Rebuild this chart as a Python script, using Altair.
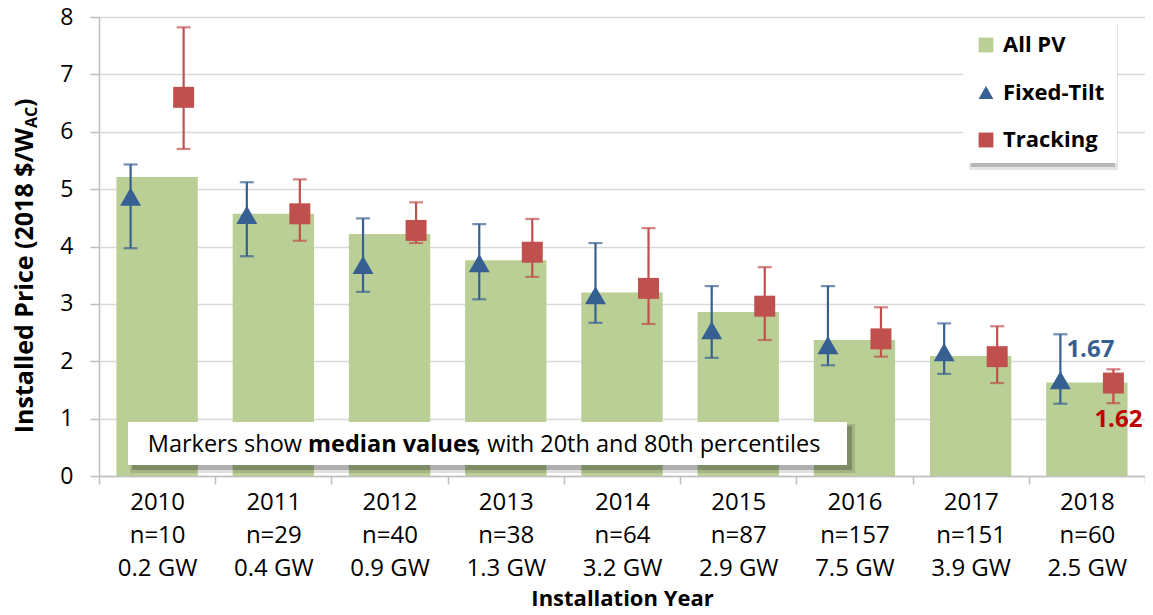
import json
import altair as alt
import pandas as pd

# ---- data ----
years = ["2010", "2011", "2012", "2013", "2014", "2015", "2016", "2017", "2018"]
n_labels = ["n=10", "n=29", "n=40", "n=38", "n=64", "n=87", "n=157", "n=151", "n=60"]
gw_labels = ["0.2 GW", "0.4 GW", "0.9 GW", "1.3 GW", "3.2 GW", "2.9 GW", "7.5 GW", "3.9 GW", "2.5 GW"]

all_pv = [5.21, 4.57, 4.22, 3.76, 3.20, 2.86, 2.37, 2.09, 1.63]

fixed_med = [4.87, 4.55, 3.68, 3.71, 3.15, 2.54, 2.28, 2.16, 1.67]
fixed_p20 = [3.97, 3.83, 3.21, 3.08, 2.67, 2.06, 1.93, 1.78, 1.26]
fixed_p80 = [5.43, 5.12, 4.49, 4.39, 4.06, 3.31, 3.31, 2.66, 2.47]

track_med = [6.60, 4.57, 4.28, 3.90, 3.27, 2.96, 2.39, 2.08, 1.62]
track_p20 = [5.70, 4.10, 4.06, 3.47, 2.65, 2.37, 2.08, 1.62, 1.27]
track_p80 = [7.82, 5.17, 4.77, 4.48, 4.32, 3.64, 2.94, 2.61, 1.86]

series_names = ["All PV", "Fixed-Tilt", "Tracking"]
GREEN = "#B9CF96"
BLUE = "#376092"
RED = "#C0504D"
DARKRED = "#C00000"
FONT = "Open Sans"

bars_df = pd.DataFrame({"year": years, "series": "All PV", "value": all_pv})
pts_df = pd.concat([
    pd.DataFrame({"year": years, "series": "Fixed-Tilt", "med": fixed_med, "p20": fixed_p20, "p80": fixed_p80}),
    pd.DataFrame({"year": years, "series": "Tracking", "med": track_med, "p20": track_p20, "p80": track_p80}),
], ignore_index=True)

nmap = json.dumps(dict(zip(years, n_labels)))
gwmap = json.dumps(dict(zip(years, gw_labels)))
label_expr = f"[datum.value, {nmap}[datum.value], {gwmap}[datum.value]]"

x_enc = alt.X(
    "year:N",
    scale=alt.Scale(domain=years, paddingInner=0, paddingOuter=0),
    axis=alt.Axis(
        title="Installation Year",
        labelExpr=label_expr,
        labelAngle=0,
        labelFont=FONT,
        labelFontSize=24,
        labelColor="#000000",
        labelLineHeight=33,
        labelBaseline="top",
        labelPadding=6,
        tickBand="extent",
        tickSize=8,
        tickColor="#BFBFBF",
        tickWidth=1.5,
        domainColor="#BFBFBF",
        domainWidth=1.5,
        grid=False,
        titleFont=FONT,
        titleFontSize=22,
        titleFontWeight="bold",
        titleColor="#000000",
        titleBaseline="alphabetic",
        titleY=129,
    ),
)

y_scale = alt.Scale(domain=[0, 8], nice=False, zero=True)
y_axis = alt.Axis(
    title="",
    values=[0, 1, 2, 3, 4, 5, 6, 7, 8],
    format="d",
    labelFont=FONT,
    labelFontSize=23,
    labelColor="#000000",
    labelPadding=17,
    tickSize=9,
    tickColor="#BFBFBF",
    tickWidth=1.5,
    domainColor="#BFBFBF",
    domainWidth=1.5,
    grid=True,
    gridColor="#D9D9D9",
    gridWidth=1.5,
)

color_scale = alt.Scale(domain=series_names, range=[GREEN, BLUE, RED])
shape_scale = alt.Scale(domain=series_names, range=["square", "triangle-up", "square"])
legend = alt.Legend(
    title=None,
    orient="none",
    legendX=864,
    legendY=5,
    padding=12,
    rowPadding=25.5,
    fillColor="white",
    labelFont=FONT,
    labelFontWeight="bold",
    labelFontSize=22,
    labelColor="#000000",
    labelOffset=6,
    symbolSize=220,
    symbolStrokeWidth=0,
)

xoff = alt.XOffset(
    "series:N",
    scale=alt.Scale(domain=["Fixed-Tilt", "Tracking"], paddingInner=0, paddingOuter=0.096),
)

bars = alt.Chart(bars_df).mark_bar(width=alt.RelativeBandSize(0.7)).encode(
    x=x_enc,
    y=alt.Y("value:Q", scale=y_scale, axis=y_axis),
    color=alt.Color("series:N", scale=color_scale, legend=legend),
)

rules = alt.Chart(pts_df).mark_rule(strokeWidth=2.2).encode(
    x="year:N",
    xOffset=xoff,
    y="p20:Q",
    y2="p80:Q",
    color=alt.Color("series:N", scale=color_scale, legend=None),
)

caps_low = alt.Chart(pts_df).mark_tick(orient="horizontal", size=14, thickness=2.2).encode(
    x="year:N",
    xOffset=xoff,
    y="p20:Q",
    color=alt.Color("series:N", scale=color_scale, legend=None),
)
caps_high = alt.Chart(pts_df).mark_tick(orient="horizontal", size=14, thickness=2.2).encode(
    x="year:N",
    xOffset=xoff,
    y="p80:Q",
    color=alt.Color("series:N", scale=color_scale, legend=None),
)

points = alt.Chart(pts_df).mark_point(filled=True, size=440, opacity=1, strokeWidth=0).encode(
    x="year:N",
    xOffset=xoff,
    y="med:Q",
    color=alt.Color("series:N", scale=color_scale, legend=legend),
    shape=alt.Shape("series:N", scale=shape_scale, legend=legend),
)

last_year = years[-1]
lab_fixed = alt.Chart(pts_df).transform_filter(
    (alt.datum.year == last_year) & (alt.datum.series == "Fixed-Tilt")
).mark_text(
    font=FONT, fontSize=24, fontWeight="bold", color=BLUE, align="left", baseline="middle", dx=6, dy=-30
).encode(x="year:N", xOffset=xoff, y="med:Q", text=alt.Text("med:Q", format=".2f"))

lab_track = alt.Chart(pts_df).transform_filter(
    (alt.datum.year == last_year) & (alt.datum.series == "Tracking")
).mark_text(
    font=FONT, fontSize=24, fontWeight="bold", color=DARKRED, align="center", baseline="middle", dx=5, dy=37
).encode(x="year:N", xOffset=xoff, y="med:Q", text=alt.Text("med:Q", format=".2f"))

one = pd.DataFrame({"k": [0]})

note_shadow = alt.Chart(one).mark_rect(color="#000000", opacity=0.22).encode(
    x=alt.value(33), x2=alt.value(753), y=alt.value(409), y2=alt.value(453)
)
note_shadow2 = alt.Chart(one).mark_rect(color="#000000", opacity=0.12).encode(
    x=alt.value(31), x2=alt.value(756), y=alt.value(407), y2=alt.value(456)
)
note_box = alt.Chart(one).mark_rect(color="white").encode(
    x=alt.value(29), x2=alt.value(748), y=alt.value(405), y2=alt.value(448)
)
note_fs = 23.5
note_y = 435
note_x2 = 209
note_1 = alt.Chart(one).mark_text(
    text="Markers show", font=FONT, fontSize=note_fs, align="right", baseline="alphabetic", color="#000000"
).encode(x=alt.value(note_x2 - 6), y=alt.value(note_y))
note_2 = alt.Chart(one).mark_text(
    text="median values", font=FONT, fontSize=note_fs, fontWeight="bold", align="left", baseline="alphabetic",
    color="#000000"
).encode(x=alt.value(note_x2), y=alt.value(note_y))
note_3 = alt.Chart(one).mark_text(
    text=", with 20th and 80th percentiles", font=FONT, fontSize=note_fs, align="left", baseline="alphabetic",
    color="#000000"
).encode(x=alt.value(note_x2 + 167), y=alt.value(note_y))

leg_shadow = alt.Chart(one).mark_rect(color="#000000", opacity=0.2).encode(
    x=alt.value(872), x2=alt.value(1016), y=alt.value(9), y2=alt.value(150)
)
leg_shadow2 = alt.Chart(one).mark_rect(color="#000000", opacity=0.1).encode(
    x=alt.value(870), x2=alt.value(1019), y=alt.value(7), y2=alt.value(153)
)

# y-axis title with subscript
yt_main = alt.Chart(one).mark_text(
    text="Installed Price (2018 $/W", font=FONT, fontSize=25, fontWeight="bold", angle=270,
    align="right", baseline="middle", color="#000000"
).encode(x=alt.value(-74), y=alt.value(111))
yt_sub = alt.Chart(one).mark_text(
    text="AC", font=FONT, fontSize=16, fontWeight="bold", angle=270,
    align="left", baseline="middle", color="#000000"
).encode(x=alt.value(-67), y=alt.value(111))
yt_end = alt.Chart(one).mark_text(
    text=")", font=FONT, fontSize=25, fontWeight="bold", angle=270,
    align="left", baseline="middle", color="#000000"
).encode(x=alt.value(-74), y=alt.value(90))

chart = alt.layer(
    bars, rules, caps_low, caps_high, points, lab_fixed, lab_track,
    note_shadow2, note_shadow, note_box, note_1, note_2, note_3,
    leg_shadow2, leg_shadow, yt_main, yt_sub, yt_end,
).properties(
    width=1046,
    height=459,
    autosize=alt.AutoSizeParams(type="none"),
    padding={"left": 91, "top": 9, "right": 0, "bottom": 131},
).configure_view(stroke="transparent").configure(background="white")

chart.save("out.html", embed_options={"renderer": "svg", "actions": False})
